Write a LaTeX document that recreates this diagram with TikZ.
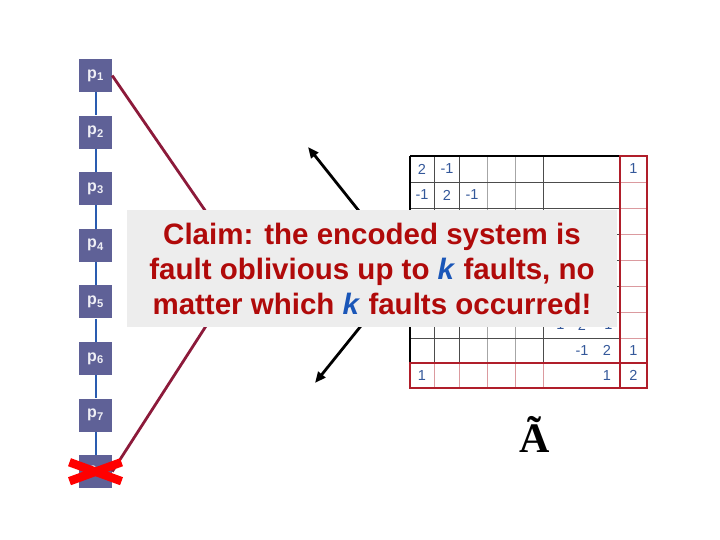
\documentclass[tikz,border=0pt]{standalone}
\usepackage{fontspec}
\setmainfont{Liberation Sans}
\setsansfont{Liberation Sans}
\newfontfamily\serifA{Liberation Serif}
\usetikzlibrary{arrows.meta,positioning,calc}
\definecolor{slate}{HTML}{5F6197}
\definecolor{wine}{HTML}{8C1A3A}
\definecolor{claimred}{HTML}{B00A0A}
\definecolor{kblue}{HTML}{1A56B8}
\definecolor{numblue}{HTML}{34589A}
\definecolor{chainblue}{HTML}{2A5CB0}
\definecolor{encred}{HTML}{B01E2A}
\begin{document}
\begin{tikzpicture}[x=1pt, y=-1pt, font=\sffamily,
  >={Triangle[length=11pt,width=9pt]},
  proc/.style={fill=slate, minimum size=33pt, inner sep=0pt, text=white!90!slate,
    font=\fontsize{16}{16}\selectfont\bfseries},
  link/.style={draw=chainblue, line width=2pt},
  wire/.style={draw=wine, line width=2.8pt},
  arr/.style={->, line width=2.8pt},
  grid/.style={draw=black!70, line width=0.8pt},
  softgrid/.style={draw=black!35, line width=0.8pt},
  encgrid/.style={draw=encred!45, line width=0.8pt},
  enc/.style={draw=encred, line width=2pt},
  num/.style={text=numblue, font=\fontsize{14.5}{15}\selectfont, inner sep=0pt},
  claim/.style={fill=black!7, minimum width=490pt, minimum height=117pt, align=center,
    text=claimred, font=\fontsize{29.5}{35}\selectfont\bfseries},
  cross/.style={draw=red, line width=8.5pt}]
\useasboundingbox (0,0) rectangle (720,540);
% processor chain
\foreach \i in {1,...,8}
  \node[proc] (p\i) at (95.5,{75.5+56.6*(\i-1)}) {p\textsubscript{\i}};
\foreach \i/\j in {1/2,2/3,3/4,4/5,5/6,6/7,7/8}
  \draw[link] (p\i) -- (p\j);
% checksum links, meeting behind the claim
\coordinate (meet) at (244,267);
\draw[wire] (p1.east) -- (meet);
\draw[wire] (p8.east) -- (meet);
% arrows out of the matrix
\coordinate (src) at (406,270);
\coordinate (up) at (308,147);
\coordinate (down) at (315,383);
\draw[arr] (src) -- (up);
\draw[arr] (src) -- (down);
% encoded matrix
\foreach \x in {434,459,543} \draw[grid] (\x,156) -- (\x,363);
\foreach \x in {487,515} \draw[softgrid] (\x,156) -- (\x,363);
\foreach \y in {182,208,234,260,286,312,338} {
  \draw[grid] (410,\y) -- (620,\y);
  \draw[encgrid] (620,\y) -- (647,\y);
}
\foreach \x in {434,459,487,515,543} \draw[encgrid] (\x,363) -- (\x,388);
\draw[black, line width=1.2pt] (410,156) -- (620,156);
\draw[black, line width=2pt] (410,156) -- (410,363);
\draw[enc] (620,156) rectangle (647,388);
\draw[enc] (410,363) rectangle (647,388);
\foreach \x/\y/\v [count=\n] in {422/169/2, 447/169/-1, 633.5/169/1,
    422/195/-1, 447/195/2, 472/195/-1,
    558/325/-1, 582/325/2, 606/325/-1,
    582/350.5/-1, 607/350.5/2, 633.5/350.5/1,
    422/375.5/1, 607/375.5/1, 633.5/375.5/2}
  \node[num] (a\n) at (\x,\y) {\v};
\node[font=\serifA\bfseries\fontsize{42}{42}\selectfont, anchor=base] (At) at (535,452) {Ã};
% claim
\node[claim] (claim) at (372,268.5) {Claim: the encoded system is\\
  fault oblivious up to \textcolor{kblue}{\textit{k}} faults, no\\
  matter which \textcolor{kblue}{\textit{k}} faults occurred!};
% failed processor
\draw[cross] ($(p8)+(-26,-9.5)$) -- ($(p8)+(26,9.5)$);
\draw[cross] ($(p8)+(-26,9.5)$) -- ($(p8)+(26,-9.5)$);
\end{tikzpicture}
\end{document}
